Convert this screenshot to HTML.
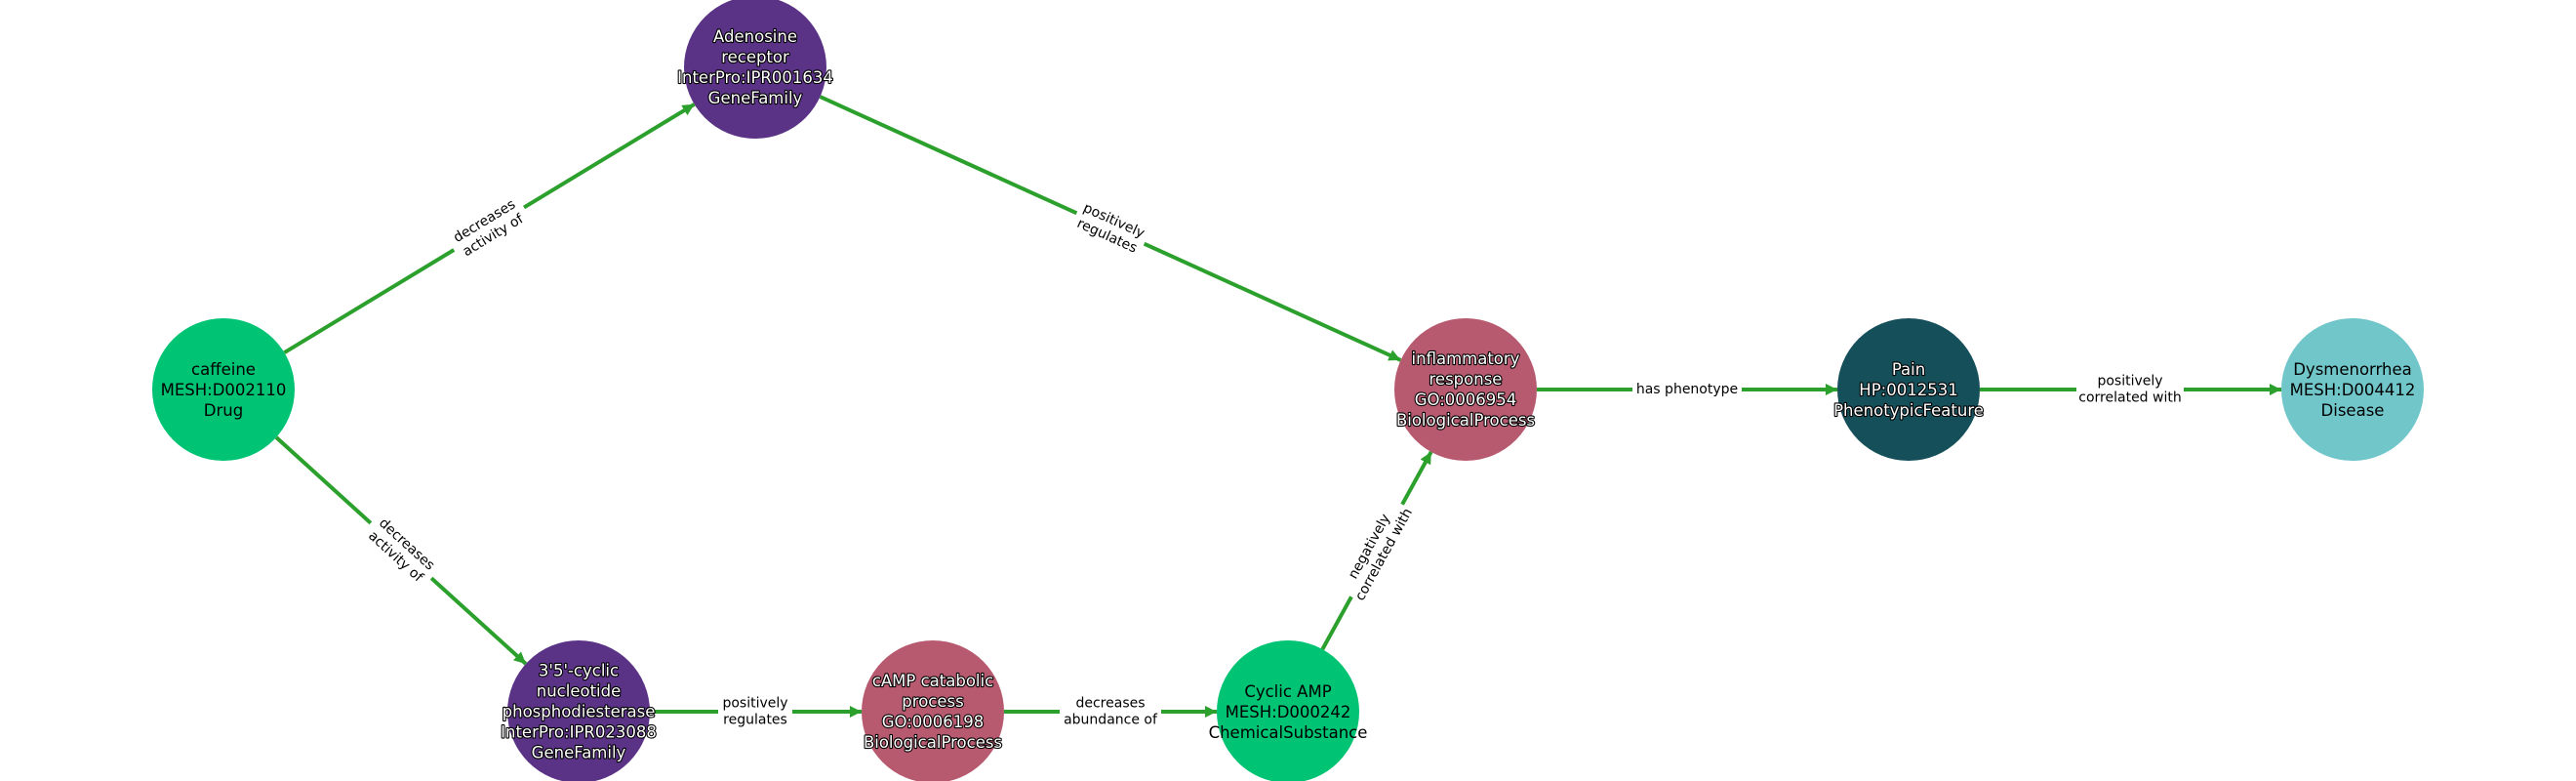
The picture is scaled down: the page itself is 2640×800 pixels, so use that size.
<!DOCTYPE html>
<html><head><meta charset="utf-8"><style>
html,body{margin:0;padding:0;background:#fff;}
svg{display:block;font-family:"DejaVu Sans","Liberation Sans",sans-serif;}
.nt{font-size:16.5px;text-anchor:middle;dominant-baseline:central;}
.w{fill:#fff;stroke:#000;stroke-width:2.2px;paint-order:stroke;stroke-linejoin:round;}
.b{fill:#000;}
.el{font-size:14px;text-anchor:middle;dominant-baseline:central;fill:#000;}
.e{stroke:#2ca02c;stroke-width:4;fill:none;}
</style></head><body>
<svg width="2640" height="800" viewBox="0 0 2640 800" xmlns="http://www.w3.org/2000/svg">
<defs>
<marker id="a" viewBox="0 0 10 10" refX="10" refY="5" markerWidth="3.2" markerHeight="3" markerUnits="strokeWidth" orient="auto">
<path d="M0,0 L10,5 L0,10 z" fill="#2ca02c"/>
</marker>
</defs>
<!-- edges -->
<line class="e" x1="291.4" y1="361.2" x2="711.6" y2="106.8" marker-end="url(#a)"/>
<line class="e" x1="283.1" y1="448" x2="538.9" y2="680" marker-end="url(#a)"/>
<line class="e" x1="840.5" y1="99.1" x2="1435.5" y2="368.9" marker-end="url(#a)"/>
<line class="e" x1="1355.3" y1="665.1" x2="1466.7" y2="462.9" marker-end="url(#a)"/>
<line class="e" x1="666" y1="729" x2="883" y2="729" marker-end="url(#a)"/>
<line class="e" x1="1029" y1="729" x2="1247" y2="729" marker-end="url(#a)"/>
<line class="e" x1="1575" y1="399" x2="1883" y2="399" marker-end="url(#a)"/>
<line class="e" x1="2029" y1="399" x2="2338" y2="399" marker-end="url(#a)"/>
<!-- edge labels -->
<g transform="translate(501,234) rotate(-31.2)"><rect x="-42" y="-19" width="84" height="38" fill="#fff"/><text class="el" y="-8.5">decreases</text><text class="el" y="8.5">activity of</text></g>
<g transform="translate(411,564) rotate(42.2)"><rect x="-42" y="-19" width="84" height="38" fill="#fff"/><text class="el" y="-8.5">decreases</text><text class="el" y="8.5">activity of</text></g>
<g transform="translate(1138,234) rotate(24.4)"><rect x="-38" y="-19" width="76" height="38" fill="#fff"/><text class="el" y="-8.5">positively</text><text class="el" y="8.5">regulates</text></g>
<g transform="translate(1411,564) rotate(-61.1)"><rect x="-54" y="-19" width="108" height="38" fill="#fff"/><text class="el" y="-8.5">negatively</text><text class="el" y="8.5">correlated with</text></g>
<g transform="translate(774,729)"><rect x="-38" y="-19" width="76" height="38" fill="#fff"/><text class="el" y="-8.5">positively</text><text class="el" y="8.5">regulates</text></g>
<g transform="translate(1138,729)"><rect x="-52" y="-19" width="104" height="38" fill="#fff"/><text class="el" y="-8.5">decreases</text><text class="el" y="8.5">abundance of</text></g>
<g transform="translate(1729,399)"><rect x="-56" y="-10" width="112" height="20" fill="#fff"/><text class="el" y="0">has phenotype</text></g>
<g transform="translate(2183,399)"><rect x="-55" y="-19" width="110" height="38" fill="#fff"/><text class="el" y="-8.5">positively</text><text class="el" y="8.5">correlated with</text></g>
<!-- nodes -->
<circle cx="229" cy="399" r="73" fill="#00c374"/>
<text class="nt b" x="229" y="378.5">caffeine</text><text class="nt b" x="229" y="399.5">MESH:D002110</text><text class="nt b" x="229" y="420.5">Drug</text>
<circle cx="774" cy="69" r="73" fill="#5a3286"/>
<text class="nt w" x="774" y="37.5">Adenosine</text><text class="nt w" x="774" y="58.5">receptor</text><text class="nt w" x="774" y="79.5">InterPro:IPR001634</text><text class="nt w" x="774" y="100.5">GeneFamily</text>
<circle cx="593" cy="729" r="73" fill="#5a3286"/>
<text class="nt w" x="593" y="687">3'5'-cyclic</text><text class="nt w" x="593" y="708">nucleotide</text><text class="nt w" x="593" y="729">phosphodiesterase</text><text class="nt w" x="593" y="750">InterPro:IPR023088</text><text class="nt w" x="593" y="771">GeneFamily</text>
<circle cx="956" cy="729" r="73" fill="#b75a6f"/>
<text class="nt w" x="956" y="697.5">cAMP catabolic</text><text class="nt w" x="956" y="718.5">process</text><text class="nt w" x="956" y="739.5">GO:0006198</text><text class="nt w" x="956" y="760.5">BiologicalProcess</text>
<circle cx="1320" cy="729" r="73" fill="#00c374"/>
<text class="nt b" x="1320" y="708.5">Cyclic AMP</text><text class="nt b" x="1320" y="729.5">MESH:D000242</text><text class="nt b" x="1320" y="750.5">ChemicalSubstance</text>
<circle cx="1502" cy="399" r="73" fill="#b75a6f"/>
<text class="nt w" x="1502" y="367.5">inflammatory</text><text class="nt w" x="1502" y="388.5">response</text><text class="nt w" x="1502" y="409.5">GO:0006954</text><text class="nt w" x="1502" y="430.5">BiologicalProcess</text>
<circle cx="1956" cy="399" r="73" fill="#154f59"/>
<text class="nt w" x="1956" y="378.5">Pain</text><text class="nt w" x="1956" y="399.5">HP:0012531</text><text class="nt w" x="1956" y="420.5">PhenotypicFeature</text>
<circle cx="2411" cy="399" r="73" fill="#71c6ca"/>
<text class="nt b" x="2411" y="378.5">Dysmenorrhea</text><text class="nt b" x="2411" y="399.5">MESH:D004412</text><text class="nt b" x="2411" y="420.5">Disease</text>
</svg>
</body></html>
